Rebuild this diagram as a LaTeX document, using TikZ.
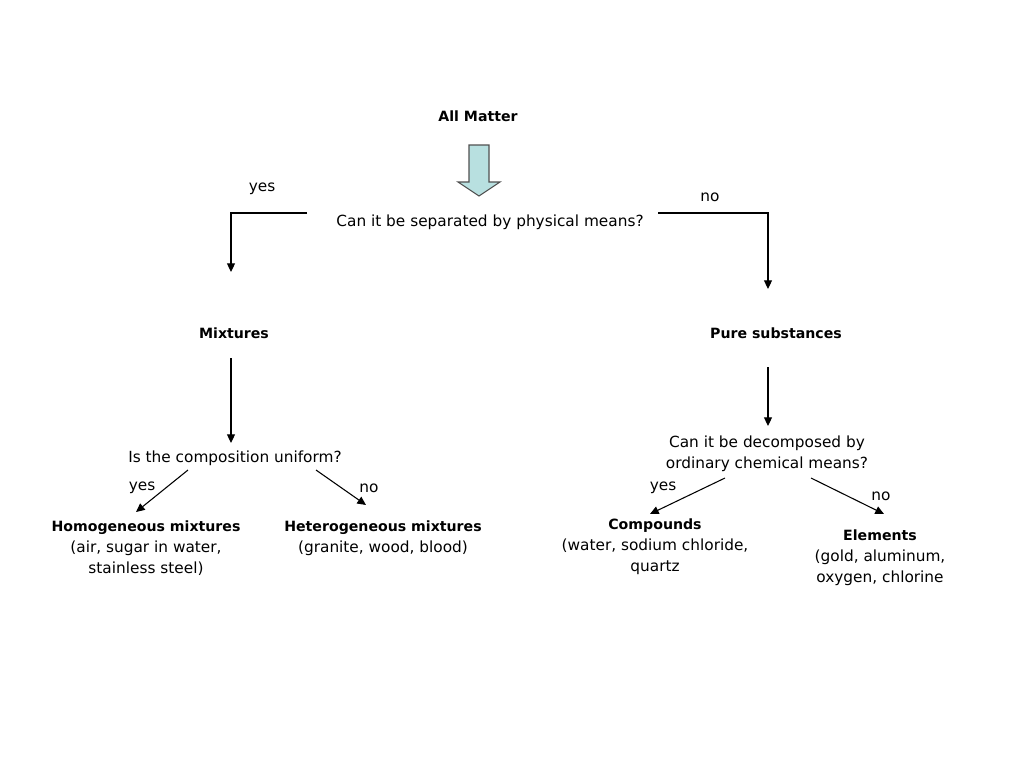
\documentclass[tikz,border=0pt]{standalone}
\usepackage{fontspec}
\setmainfont{DejaVu Sans}
\usetikzlibrary{arrows.meta}
\definecolor{arrowfill}{HTML}{B8E0E0}
\definecolor{arrowline}{HTML}{505050}
\newcommand{\hd}[1]{{\fontsize{10.6}{15.75}\selectfont\bfseries #1}}
\tikzset{
  txt/.style={inner sep=0pt, align=center, font=\fontsize{11.5}{15.75}\selectfont},
  ttl/.style={txt, font=\fontsize{10.6}{15.75}\selectfont\bfseries},
  conn/.style={line width=0.8pt, -{Triangle[width=6pt,length=6.5pt]}},
}
\begin{document}
\begin{tikzpicture}[x=0.75pt,y=-0.75pt]
\useasboundingbox (0,0) rectangle (1024,768);
\fill[white] (0,0) rectangle (1024,768);

\node[ttl] (all) at (478,116) {All Matter};
\draw[fill=arrowfill, draw=arrowline, line width=0.8pt]
  (469,145) -- (489,145) -- (489,182) -- (500,182) -- (479,196) -- (458,182) -- (469,182) -- cycle;

\node[txt] (q1) at (490,222) {Can it be separated by physical means?};
\coordinate (q1l) at (307,213);
\coordinate (q1r) at (658,213);
\node[ttl] (mix) at (234,333) {Mixtures};
\node[ttl] (pure) at (776,333) {Pure substances};
\draw[conn] (q1l) -- (231,213) -- (231,272);
\draw[conn] (q1r) -- (768,213) -- (768,289);
\node[txt] (yes1) at (262,189) {yes};
\node[txt] (no1) at (710,197) {no};

\coordinate (mixb) at (231,358);
\coordinate (q2t) at (231,443);
\draw[conn] (mixb) -- (q2t);
\node[txt] (q2) at (235,458) {Is the composition uniform?};

\coordinate (q2a) at (188,470);
\coordinate (homt) at (136,512);
\coordinate (q2b) at (316,470);
\coordinate (hett) at (366,505);
\draw[conn] (q2a) -- (homt);
\draw[conn] (q2b) -- (hett);
\node[txt] (yes2) at (142,488) {yes};
\node[txt] (no2) at (369,488) {no};

\node[txt, anchor=north] (hom) at (146,520) {\hd{Homogeneous mixtures}\\(air, sugar in water,\\stainless steel)};
\node[txt, anchor=north] (het) at (383,520) {\hd{Heterogeneous mixtures}\\(granite, wood, blood)};

\coordinate (pureb) at (768,367);
\coordinate (q3t) at (768,426);
\draw[conn] (pureb) -- (q3t);
\node[txt] (q3) at (767,454) {Can it be decomposed by\\ordinary chemical means?};

\coordinate (q3a) at (725,478);
\coordinate (comt) at (650,514);
\coordinate (q3b) at (811,478);
\coordinate (elet) at (884,514);
\draw[conn] (q3a) -- (comt);
\draw[conn] (q3b) -- (elet);
\node[txt] (yes3) at (663,488) {yes};
\node[txt] (no3) at (881,496) {no};

\node[txt, anchor=north] (com) at (655,518) {\hd{Compounds}\\(water, sodium chloride,\\quartz};
\node[txt, anchor=north] (ele) at (880,529) {\hd{Elements}\\(gold, aluminum,\\oxygen, chlorine};
\end{tikzpicture}
\end{document}
